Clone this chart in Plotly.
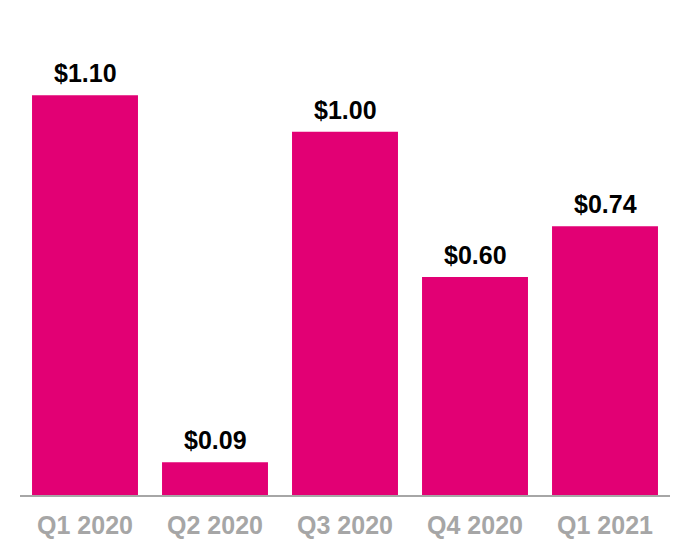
import plotly.graph_objects as go

categories = ["Q1 2020", "Q2 2020", "Q3 2020", "Q4 2020", "Q1 2021"]
values = [1.10, 0.09, 1.00, 0.60, 0.74]
labels = ["$1.10", "$0.09", "$1.00", "$0.60", "$0.74"]

FONT = "Liberation Sans, Arial, sans-serif"

fig = go.Figure(go.Bar(
    x=categories, y=values,
    marker=dict(color="#E20074", line=dict(width=0)),
    hoverinfo="skip",
))
for c, v, t in zip(categories, values, labels):
    fig.add_annotation(
        x=c, y=v, text=t, showarrow=False, yanchor="bottom", yshift=6,
        font=dict(family=FONT, size=25, color="#000000", weight="bold"),
    )
fig.update_layout(
    width=690, height=560, margin=dict(l=20, r=20, t=59, b=65),
    paper_bgcolor="white", plot_bgcolor="white",
    bargap=0.185, showlegend=False,
    font=dict(family=FONT),
)
fig.update_xaxes(
    showline=True, linecolor="#A6A6A6", linewidth=2, ticks="",
    tickfont=dict(size=25, color="#A6A6A6", family=FONT, weight="bold"),
    ticklabelstandoff=7, showgrid=False,
)
fig.update_yaxes(range=[0, 1.2], visible=False, showgrid=False, zeroline=False)
fig.write_html("out.html")
